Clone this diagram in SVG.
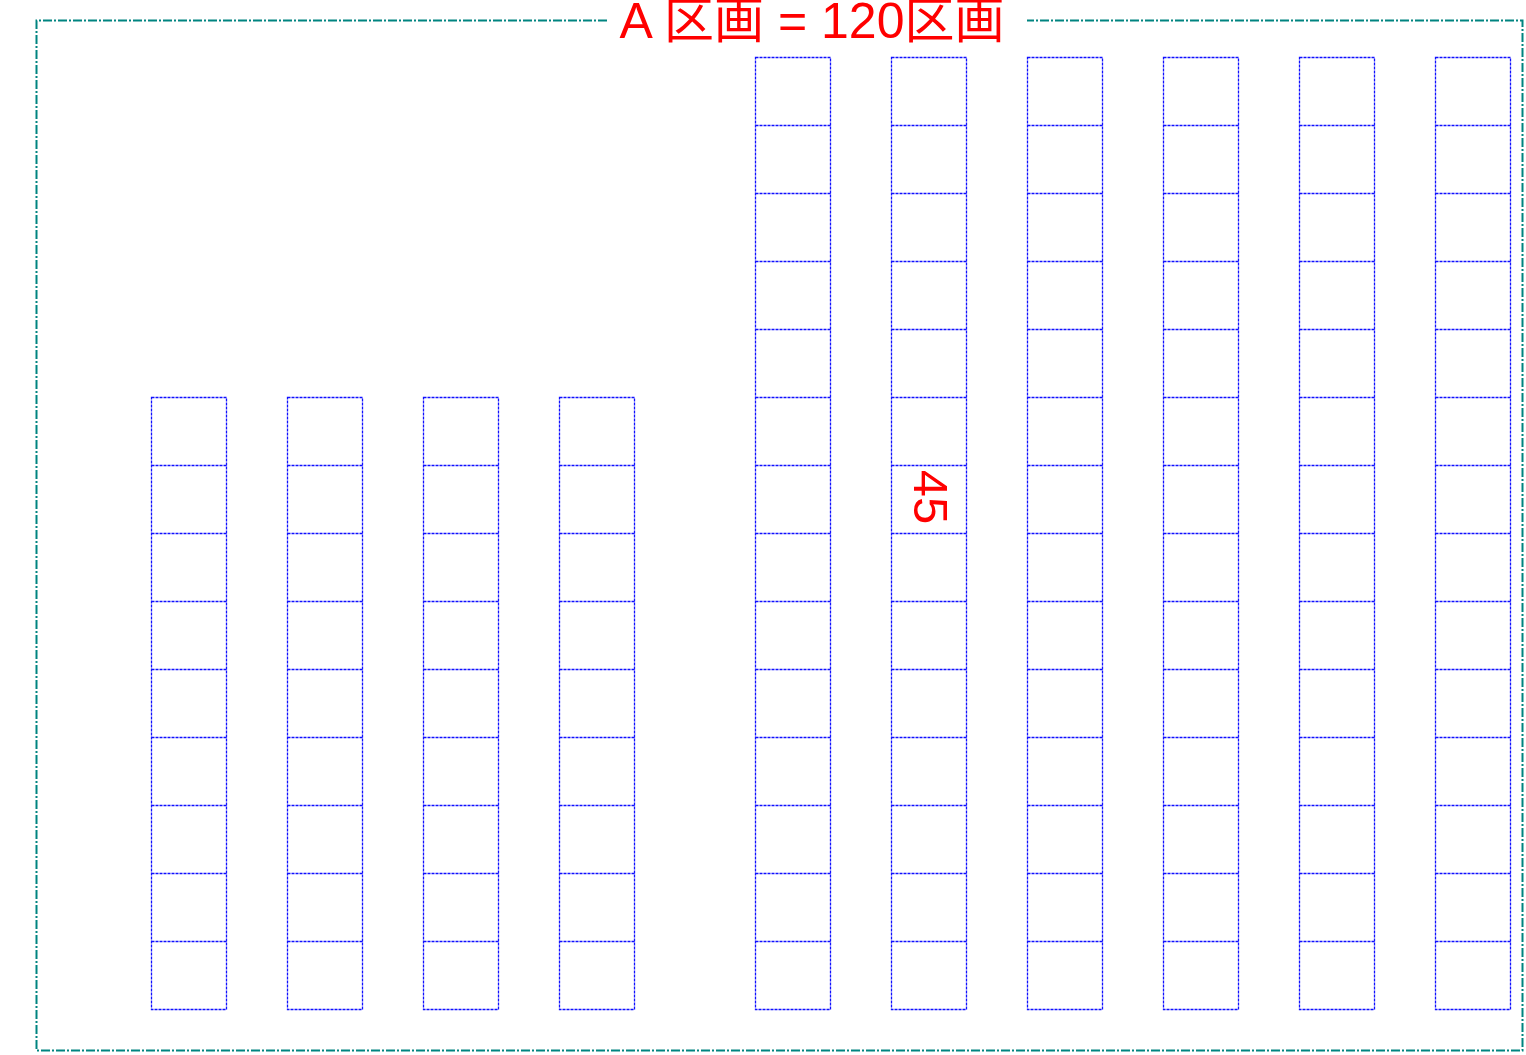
<svg xmlns="http://www.w3.org/2000/svg" xmlns:xlink="http://www.w3.org/1999/xlink" width="1526" height="1055" viewBox="0 0 1526 1055">
<style>
.cell{fill:none;stroke:#1010ff;stroke-width:1.3;stroke-dasharray:3 1}
.border{fill:none;stroke:#008480;stroke-width:2;stroke-dasharray:9 2 2 2}
.red{fill:#ff0000;font-family:"Liberation Sans","Noto Sans CJK JP",sans-serif}
</style>
<defs>
<g id="colS">
<rect class="cell" x="0" y="0" width="75" height="612"/>
<path class="cell" d="M0 68H75M0 136H75M0 204H75M0 272H75M0 340H75M0 408H75M0 476H75M0 544H75"/>
</g>
<g id="colL">
<rect class="cell" x="0" y="0" width="75" height="952"/>
<path class="cell" d="M0 68H75M0 136H75M0 204H75M0 272H75M0 340H75M0 408H75M0 476H75M0 544H75M0 612H75M0 680H75M0 748H75M0 816H75M0 884H75"/>
</g>
</defs>
<rect width="1526" height="1055" fill="#ffffff"/>
<g id="border">
<path class="border" d="M607 20.5H36.5V1050.5H1522.5V20.5H1027"/>
</g>
<g id="title">
<text class="red" x="812" y="38" font-size="50" text-anchor="middle">A 区画 = 120区画</text>
</g>
<g id="left-block">
<use xlink:href="#colS" x="151.5" y="397.5"/>
<use xlink:href="#colS" x="287.5" y="397.5"/>
<use xlink:href="#colS" x="423.5" y="397.5"/>
<use xlink:href="#colS" x="559.5" y="397.5"/>
</g>
<g id="right-block">
<use xlink:href="#colL" x="755.5" y="57.5"/>
<use xlink:href="#colL" x="891.5" y="57.5"/>
<use xlink:href="#colL" x="1027.5" y="57.5"/>
<use xlink:href="#colL" x="1163.5" y="57.5"/>
<use xlink:href="#colL" x="1299.5" y="57.5"/>
<use xlink:href="#colL" x="1435.5" y="57.5"/>
</g>
<g id="label-45">
<text class="red" transform="translate(914,497) rotate(90)" font-size="49" text-anchor="middle">45</text>
</g>
</svg>
